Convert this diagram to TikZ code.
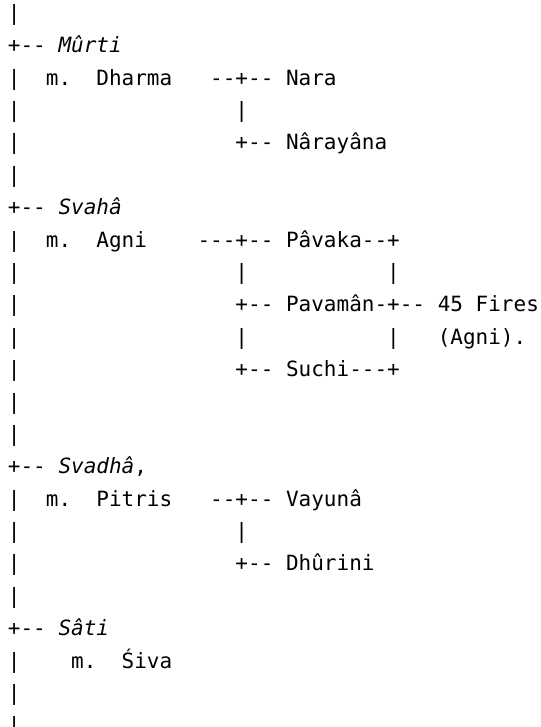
\documentclass[tikz,border=0pt]{standalone}
\usepackage{fontspec}
\setmonofont{DejaVu Sans Mono}[ItalicFont={DejaVu Sans Mono Oblique}]
\usetikzlibrary{positioning}
\newcommand{\gap}[1]{\hspace*{#1\dimexpr 0.602em\relax}}
\frenchspacing

\begin{document}
\begin{tikzpicture}[
    row/.style={inner sep=0pt, text height=15.1pt, text depth=8.79pt,
        font=\ttfamily\fontsize{15.75pt}{23.89pt}\selectfont}
]
    \useasboundingbox (0,0) rectangle (405pt,-545.25pt);
    \node[row, anchor=north west] (r0) at (5.75pt,0) {|};
    \node[row, below=0pt of r0.south west, anchor=north west] (r1) {+-{}-~\textit{Mûrti}};
    \node[row, below=0pt of r1.south west, anchor=north west] (r2) {|~~m.~~Dharma~~~-{}-+-{}-~Nara};
    \node[row, below=0pt of r2.south west, anchor=north west] (r3) {|\gap{17}|};
    \node[row, below=0pt of r3.south west, anchor=north west] (r4) {|\gap{17}+-{}-~Nârayâna};
    \node[row, below=0pt of r4.south west, anchor=north west] (r5) {|};
    \node[row, below=0pt of r5.south west, anchor=north west] (r6) {+-{}-~\textit{Svahâ}};
    \node[row, below=0pt of r6.south west, anchor=north west] (r7) {|~~m.~~Agni\gap{4}-{}-{}-+-{}-~Pâvaka-{}-+};
    \node[row, below=0pt of r7.south west, anchor=north west] (r8) {|\gap{17}|\gap{11}|};
    \node[row, below=0pt of r8.south west, anchor=north west] (r9) {|\gap{17}+-{}-~Pavamân-+-{}-~45~Fires};
    \node[row, below=0pt of r9.south west, anchor=north west] (r10) {|\gap{17}|\gap{11}|~~~(Agni).};
    \node[row, below=0pt of r10.south west, anchor=north west] (r11) {|\gap{17}+-{}-~Suchi-{}-{}-+};
    \node[row, below=0pt of r11.south west, anchor=north west] (r12) {|};
    \node[row, below=0pt of r12.south west, anchor=north west] (r13) {|};
    \node[row, below=0pt of r13.south west, anchor=north west] (r14) {+-{}-~\textit{Svadhâ},};
    \node[row, below=0pt of r14.south west, anchor=north west] (r15) {|~~m.~~Pitris~~~-{}-+-{}-~Vayunâ};
    \node[row, below=0pt of r15.south west, anchor=north west] (r16) {|\gap{17}|};
    \node[row, below=0pt of r16.south west, anchor=north west] (r17) {|\gap{17}+-{}-~Dhûrini};
    \node[row, below=0pt of r17.south west, anchor=north west] (r18) {|};
    \node[row, below=0pt of r18.south west, anchor=north west] (r19) {+-{}-~\textit{Sâti}};
    \node[row, below=0pt of r19.south west, anchor=north west] (r20) {|\gap{4}m.~~Śiva};
    \node[row, below=0pt of r20.south west, anchor=north west] (r21) {|};
    \node[row, below=0pt of r21.south west, anchor=north west] (r22) {|};
\end{tikzpicture}
\end{document}
